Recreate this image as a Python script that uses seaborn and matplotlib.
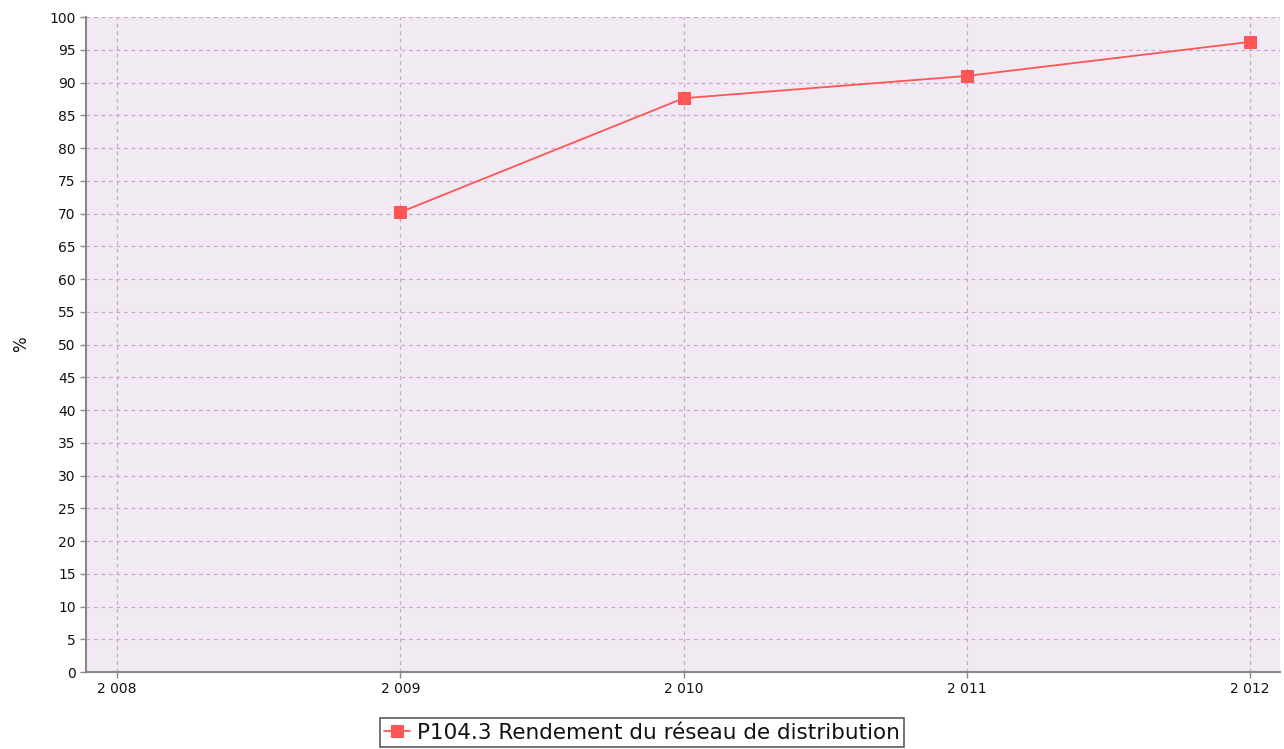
import matplotlib
matplotlib.use('Agg')
import matplotlib.pyplot as plt
import seaborn as sns
import pandas as pd

# Data
years = [2009, 2010, 2011, 2012]
rendement = [70.2, 87.6, 91.0, 96.2]
series_label = 'P104.3 Rendement du réseau de distribution'
x_ticks = [2008, 2009, 2010, 2011, 2012]
x_tick_labels = ['2 008', '2 009', '2 010', '2 011', '2 012']
y_ticks = list(range(0, 101, 5))

sns.set_theme(style='white')
plt.rcParams['font.family'] = ['DejaVu Sans']

df = pd.DataFrame({'Année': years, 'Valeur': rendement, 'Série': series_label})

fig = plt.figure(figsize=(12.84, 7.49), dpi=100)
ax = fig.add_axes([0.067, 0.1028, 0.9299, 0.8745])
ax.set_facecolor('#F2EAF2')

sns.lineplot(
    data=df, x='Année', y='Valeur', hue='Série',
    palette=['#FF5555'], marker='s', markersize=9,
    markeredgecolor='#FF5555', linewidth=1.3, ax=ax, legend=True,
)

ax.set_xlim(2007.89, 2012.106)
ax.set_ylim(0, 100)
ax.set_xticks(x_ticks)
ax.set_xticklabels(x_tick_labels)
ax.set_yticks(y_ticks)
ax.tick_params(axis='both', labelsize=10, labelcolor='#111111', length=4,
               width=1, color='#888888', direction='out',
               bottom=True, left=True)
ax.grid(True, color='#C9A6CB', linestyle=(0, (3, 3)), linewidth=0.9)
ax.set_axisbelow(True)

for side in ['top', 'right']:
    ax.spines[side].set_visible(False)
for side in ['left', 'bottom']:
    ax.spines[side].set_color('#888888')
    ax.spines[side].set_linewidth(1.5)

ax.set_xlabel('')
ax.set_ylabel('%', fontsize=12, color='#111111', labelpad=14)

handles, labels = ax.get_legend_handles_labels()
ax.get_legend().remove()
leg = fig.legend(
    handles, labels, loc='lower center', bbox_to_anchor=(0.5, 0.0),
    fontsize=15.5, frameon=True, fancybox=False, handlelength=1.2,
    handletextpad=0.3, borderpad=0.2, borderaxespad=0.1,
)
leg.get_frame().set_edgecolor('#333333')
leg.get_frame().set_linewidth(1.2)
for t in leg.get_texts():
    t.set_color('#111111')

fig.savefig('out.png', dpi=100)
